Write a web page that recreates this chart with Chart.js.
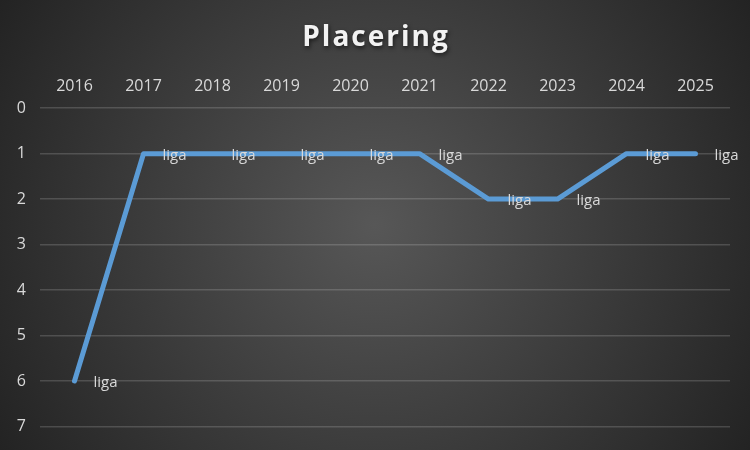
<!DOCTYPE html>
<html>
<head>
<meta charset="utf-8">
<script src="https://cdn.jsdelivr.net/npm/chart.js@4"></script>
<style>
  html, body { margin: 0; padding: 0; background: #333; }
  #wrap { width: 750px; height: 450px; }
</style>
</head>
<body>
<div id="wrap"><canvas id="chart" width="750" height="450"></canvas></div>
<script>
const years = ['2016', '2017', '2018', '2019', '2020', '2021', '2022', '2023', '2024', '2025'];
const placering = [6, 1, 1, 1, 1, 1, 2, 2, 1, 1];
const pointLabels = ['liga', 'liga', 'liga', 'liga', 'liga', 'liga', 'liga', 'liga', 'liga', 'liga'];
const chartTitle = 'Placering';

// dark radial background like the Excel style
const bgPlugin = {
    id: 'bg',
    beforeDraw(chart) {
        const ctx = chart.ctx;
        const w = chart.width, h = chart.height;
        const g = ctx.createRadialGradient(w / 2, h / 2, 0, w / 2, h / 2, Math.sqrt(w * w + h * h) / 2);
        g.addColorStop(0, '#575757');
        g.addColorStop(1, '#232323');
        ctx.save();
        ctx.fillStyle = g;
        ctx.fillRect(0, 0, w, h);
        ctx.restore();
    }
};

// spaced-out title with a soft shadow (the built-in title can't letter-space)
const titlePlugin = {
    id: 'spacedTitle',
    afterDraw(chart) {
        const ctx = chart.ctx;
        ctx.save();
        ctx.font = 'bold 28px "Open Sans", sans-serif';
        ctx.letterSpacing = '2px';
        ctx.fillStyle = '#f2f2f2';
        ctx.textAlign = 'center';
        ctx.textBaseline = 'middle';
        ctx.shadowColor = 'rgba(0,0,0,0.6)';
        ctx.shadowBlur = 4;
        ctx.shadowOffsetX = 1;
        ctx.shadowOffsetY = 2;
        ctx.fillText(chartTitle, chart.width / 2 + 1, 38);
        ctx.restore();
    }
};

// "liga" labels to the right of each point
const labelPlugin = {
    id: 'pointText',
    afterDatasetsDraw(chart) {
        const ctx = chart.ctx;
        const meta = chart.getDatasetMeta(0);
        ctx.save();
        ctx.font = '15px "Open Sans", sans-serif';
        ctx.fillStyle = '#d9d9d9';
        ctx.textBaseline = 'middle';
        ctx.textAlign = 'left';
        meta.data.forEach((pt, i) => {
            ctx.fillText(pointLabels[i], pt.x + 19, pt.y + 2);
        });
        ctx.restore();
    }
};

new Chart(document.getElementById('chart'), {
    type: 'line',
    data: {
        labels: years,
        datasets: [{
            label: 'Placering',
            data: placering,
            borderColor: '#5b9bd5',
            borderWidth: 5,
            borderCapStyle: 'round',
            borderJoinStyle: 'round',
            pointRadius: 0,
            tension: 0,
            fill: false
        }]
    },
    options: {
        responsive: false,
        animation: false,
        layout: { padding: { left: 0, right: 20, top: 65, bottom: 22 } },
        plugins: {
            legend: { display: false },
            tooltip: { enabled: false },
            title: { display: false }
        },
        scales: {
            x: {
                position: 'top',
                offset: true,
                grid: { display: false, drawTicks: false },
                border: { display: false },
                ticks: {
                    color: '#d9d9d9',
                    font: { family: '"Open Sans", sans-serif', size: 16 },
                    padding: 12,
                    maxRotation: 0
                }
            },
            y: {
                reverse: true,
                min: 0,
                max: 7,
                grid: { color: 'rgba(255,255,255,0.16)', lineWidth: 1.5, drawTicks: false },
                border: { display: false },
                ticks: {
                    stepSize: 1,
                    color: '#d9d9d9',
                    font: { family: '"Open Sans", sans-serif', size: 16 },
                    padding: 14
                },
                afterFit(scale) { scale.width = 40; }
            }
        }
    },
    plugins: [bgPlugin, titlePlugin, labelPlugin]
});
</script>
</body>
</html>
